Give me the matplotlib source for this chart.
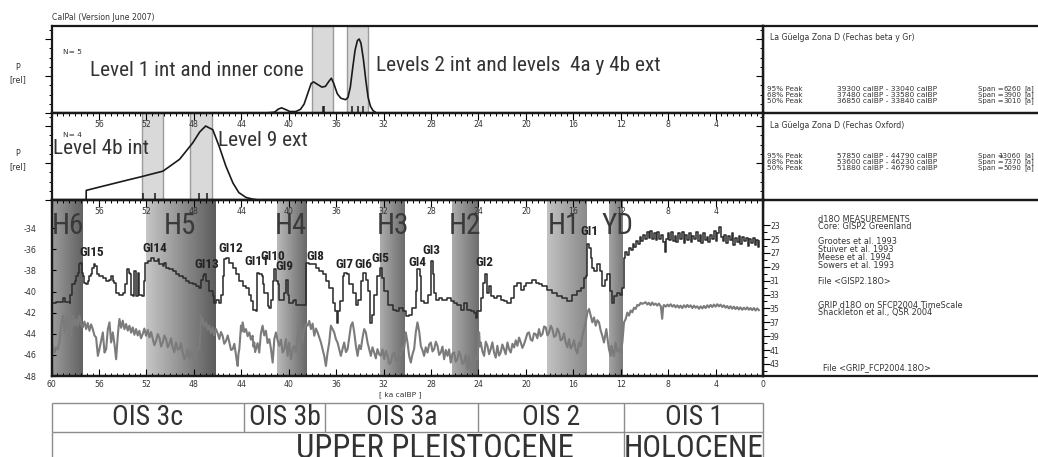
import numpy as np
import matplotlib.pyplot as plt
from matplotlib import font_manager
from matplotlib.font_manager import FontProperties
from matplotlib.colors import LinearSegmentedColormap
from matplotlib.ticker import MultipleLocator, FixedLocator

# ---------------------------------------------------------------- data
# summed calibrated probability, La Guelga zona D (beta + Gr dates)
top_age = [42.0, 41.2, 40.9, 40.6, 40.3, 39.9, 39.4, 39.0, 38.7, 38.4, 38.1, 37.9,
           37.6, 37.2, 36.9, 36.6, 36.4, 36.2, 35.9, 35.6, 35.2, 35.0, 34.8, 34.6,
           34.4, 34.2, 34.05, 33.9, 33.7, 33.5, 33.3, 33.1, 32.9, 32.6]
top_prob = [0.0, 0.01, 0.05, 0.07, 0.05, 0.02, 0.02, 0.05, 0.12, 0.26, 0.40, 0.42,
            0.39, 0.35, 0.36, 0.43, 0.47, 0.40, 0.26, 0.20, 0.18, 0.21, 0.35, 0.61,
            0.85, 0.98, 1.0, 0.94, 0.73, 0.45, 0.21, 0.09, 0.035, 0.0]
top_dates = [37.08, 37.0, 34.62, 34.14, 33.69]
top_bands = [(38.07, 36.24), (35.04, 33.27)]

# summed calibrated probability, La Guelga zona D (Oxford dates)
mid_age = [57.08, 57.07, 55.96, 53.7, 52.3, 50.6, 49.2, 48.1, 47.5, 47.0, 46.4,
           45.85, 45.3, 44.7, 44.2, 43.6, 43.0, 42.5]
mid_prob = [0.0, 0.13, 0.175, 0.265, 0.32, 0.39, 0.55, 0.77, 0.92, 1.0, 0.95,
            0.72, 0.46, 0.23, 0.10, 0.035, 0.01, 0.0]
mid_dates = [52.3, 51.26, 47.6, 46.9]
mid_bands = [(52.39, 50.62), (48.29, 46.5)]

top_title = "La Güelga Zona D (Fechas beta y Gr)"
mid_title = "La Güelga Zona D (Fechas Oxford)"
range_names = ["95% Peak", "68% Peak", "50% Peak"]
top_from = [39300, 37480, 36850]
top_to = [33040, 33580, 33840]
top_span = [6260, 3900, 3010]
mid_from = [57850, 53600, 51880]
mid_to = [44790, 46230, 46790]
mid_span = [13060, 7370, 5090]

# GISP2 d18O (permil)
gisp2_age = [
    60.03, 59.61, 59.19, 59.04, 58.90, 58.48, 58.40, 58.26, 58.06, 57.92, 57.78, 57.70,
    57.56, 57.44, 57.36, 57.28, 57.13, 56.94, 56.85, 56.71, 56.57, 56.43, 56.29, 56.18,
    55.96, 55.67, 55.39, 55.11, 54.97, 54.83, 54.69, 54.55, 54.27, 53.99, 53.77, 53.65,
    53.48, 53.34, 53.26, 53.15, 53.01, 52.87, 52.73, 52.59, 52.36, 52.22, 52.11, 51.83,
    51.60, 51.32, 51.04, 50.90, 50.62, 50.48, 50.34, 50.06, 49.78, 49.50, 49.22, 48.94,
    48.65, 48.37, 48.09, 47.81, 47.53, 47.39, 47.25, 47.11, 46.97, 46.69, 46.41, 46.27,
    46.13, 45.85, 45.71, 45.57, 45.43, 45.28, 45.00, 44.72, 44.44, 44.16, 43.88, 43.60,
    43.32, 43.18, 43.04, 42.76, 42.70, 42.48, 42.28, 42.20, 42.06, 41.77, 41.63, 41.49,
    41.35, 41.21, 41.07, 40.93, 40.79,
    40.37, 40.23, 40.09, 39.95, 39.67, 39.53, 39.39, 38.97, 38.63, 38.54, 38.26, 37.98,
    37.70, 37.42, 37.14, 36.86, 36.58, 36.30, 36.10, 35.93, 35.82, 35.65, 35.46, 35.32,
    35.09, 34.89, 34.61, 34.33, 34.14, 33.91, 33.69, 33.49, 33.35, 33.15, 33.01, 32.79,
    32.51, 32.31, 32.14, 31.95, 31.61, 31.24, 30.96, 30.68, 30.40, 30.12, 29.84, 29.56,
    29.28, 29.14, 28.91, 28.80, 28.57, 28.29, 28.01, 27.87, 27.73, 27.59, 27.31, 27.03,
    26.61, 26.33, 26.05, 25.77, 25.49, 25.21, 24.93, 24.64, 24.36, 24.22, 24.08, 23.80,
    23.58, 23.44, 23.30, 23.10, 22.96, 22.68, 22.40, 22.12, 21.84, 21.55, 21.27, 20.99,
    20.71, 20.43, 20.15,
    20.01, 19.45, 19.17, 18.89, 18.60, 18.18, 17.76, 17.34, 16.92, 16.50, 16.08, 15.66,
    15.37, 15.09, 14.95, 14.81, 14.67, 14.53, 14.39, 14.25, 13.97, 13.77, 13.55, 13.33,
    13.13, 12.93, 12.76, 12.57, 12.29, 12.06, 11.86,
    11.72, 11.60, 11.45, 11.30, 11.15, 11.00, 10.85, 10.70, 10.55, 10.40, 10.25, 10.10,
    9.95, 9.80, 9.65, 9.50, 9.35, 9.20, 9.05, 8.90, 8.75, 8.60, 8.45, 8.30, 8.20, 8.05,
    7.90, 7.75, 7.60, 7.45, 7.30, 7.15, 7.00, 6.85, 6.70, 6.55, 6.40, 6.25, 6.10, 5.95,
    5.80, 5.65, 5.50, 5.35, 5.20, 5.05, 4.90, 4.75, 4.60, 4.45, 4.30, 4.15, 4.00, 3.85,
    3.70, 3.55, 3.40, 3.25, 3.10, 2.95, 2.80, 2.65, 2.50, 2.35, 2.20, 2.05, 1.90, 1.75,
    1.60, 1.45, 1.30, 1.15, 1.00, 0.85, 0.70, 0.55, 0.40, 0.30]
gisp2_d18o = [
    -41.08, -40.98, -40.98, -40.60, -40.98, -41.08, -40.29, -39.33, -39.02, -38.54, -38.22, -37.43,
    -37.27, -38.22, -38.54, -39.17, -39.33, -39.02, -38.54, -38.38, -37.75, -37.43, -37.59, -38.38,
    -38.54, -38.70, -39.02, -38.86, -38.54, -39.02, -39.17, -40.13, -40.29, -40.13, -39.33, -37.90,
    -38.22, -38.38, -40.29, -40.44, -38.06, -40.44, -38.22, -40.29, -40.44, -39.02, -37.27, -37.11,
    -36.79, -37.11, -36.95, -37.43, -37.59, -37.27, -37.75, -37.90, -38.06, -38.38, -38.54, -38.70,
    -39.02, -39.17, -39.33, -39.49, -39.65, -38.86, -38.54, -38.38, -39.02, -39.97, -40.44, -41.08,
    -40.76, -41.08, -40.29, -38.54, -36.95, -36.79, -37.27, -37.75, -38.38, -39.02, -39.49, -39.65,
    -40.29, -40.92, -41.71, -41.87, -38.22, -38.38, -38.54, -39.33, -40.13, -41.40, -41.56, -40.76,
    -39.02, -37.90, -39.02, -39.33, -40.76,
    -40.13, -38.86, -40.29, -41.08, -40.92, -40.76, -41.24, -41.30, -41.24, -37.27, -37.43, -37.43,
    -37.75, -38.06, -38.38, -39.02, -39.65, -41.08, -41.87, -42.98, -41.87, -40.92, -38.54, -38.22,
    -38.38, -39.33, -40.13, -41.24, -40.76, -39.02, -38.22, -38.86, -39.97, -42.98, -42.19, -40.29,
    -38.54, -37.75, -38.70, -39.97, -41.24, -41.71, -41.87, -41.56, -41.87, -42.35, -42.19, -41.56,
    -39.97, -37.90, -38.54, -40.92, -41.08, -40.29, -37.11, -38.38, -40.13, -40.76, -40.60, -40.76,
    -40.60, -40.92, -41.08, -41.24, -41.71, -41.08, -41.71, -41.87, -42.03, -42.51, -41.87, -40.60,
    -39.17, -38.38, -40.13, -39.49, -40.44, -40.60, -40.44, -40.76, -40.92, -41.08, -40.60, -39.49,
    -39.17, -39.81, -39.49,
    -39.17, -38.86, -39.17, -39.33, -39.49, -39.81, -40.13, -40.44, -40.60, -40.92, -40.29, -39.97,
    -39.65, -38.70, -38.54, -35.52, -35.84, -36.79, -37.75, -38.06, -37.43, -38.06, -39.49, -38.86,
    -38.38, -39.97, -41.08, -40.44, -40.13, -40.29, -39.65,
    -36.8, -36.3, -36.5, -35.9, -36.1, -35.5, -35.8, -35.2, -35.5, -34.8, -35.2, -34.6,
    -35.0, -34.4, -34.9, -34.3, -35.0, -34.5, -35.1, -34.4, -35.0, -34.6, -35.3, -36.3, -35.0, -34.5,
    -35.1, -34.4, -35.2, -34.7, -35.3, -34.5, -35.0, -34.4, -35.4, -34.6, -35.1, -34.5, -35.3, -34.7,
    -35.0, -34.4, -35.2, -34.6, -35.4, -34.5, -35.1, -34.8, -35.3, -34.6, -35.0, -34.3, -35.2, -34.5,
    -33.9, -34.8, -35.2, -34.6, -35.4, -34.7, -35.1, -34.5, -35.6, -34.9, -35.3, -34.7, -35.5, -34.8,
    -35.2, -34.9, -35.7, -35.0, -35.4, -34.9, -35.6, -35.1, -35.8, -35.2]

# GRIP d18O on the SFCP2004 time scale, (age ka, value on the right-hand scale)
grip_points = [
    (60.03, 39.42), (59.89, 40.39), (59.75, 41.36), (59.61, 40.63), (59.47, 40.87),
    (59.33, 39.91), (59.19, 37.49), (59.04, 36.04), (58.90, 38.46), (58.76, 36.04),
    (58.62, 37.98), (58.48, 36.53), (58.34, 38.94), (58.20, 36.04), (58.06, 37.49),
    (57.92, 36.53), (57.78, 37.50), (57.64, 36.04), (57.50, 37.30), (57.36, 37.73),
    (57.22, 36.90), (57.08, 37.98), (56.94, 37.10), (56.80, 38.22), (56.66, 37.30),
    (56.52, 37.98), (56.38, 38.90), (56.24, 39.18), (56.09, 41.84), (55.96, 40.87),
    (55.82, 39.67), (55.67, 38.46), (55.53, 41.36), (55.39, 40.87), (55.25, 37.98),
    (55.11, 37.01), (54.97, 39.91), (54.83, 38.46), (54.69, 40.15), (54.55, 42.32),
    (54.41, 38.94), (54.34, 37.60), (54.27, 36.53), (54.13, 37.80), (53.99, 36.77),
    (53.85, 38.00), (53.71, 37.25), (53.57, 38.20), (53.43, 37.49), (53.29, 38.50),
    (53.15, 37.73), (53.01, 38.80), (52.87, 37.98), (52.73, 38.90), (52.59, 38.22),
    (52.45, 39.30), (52.31, 38.70), (52.17, 37.90), (52.03, 38.94), (51.88, 38.10),
    (51.74, 39.18), (51.60, 38.40), (51.46, 39.42), (51.32, 40.30), (51.18, 39.67),
    (51.04, 38.70), (50.90, 39.18), (50.76, 40.50), (50.62, 39.91), (50.48, 38.90),
    (50.34, 39.42), (50.20, 40.60), (50.06, 40.15), (49.92, 39.30), (49.78, 40.63),
    (49.64, 41.30), (49.50, 39.91), (49.36, 40.90), (49.22, 40.87), (49.08, 40.00),
    (48.94, 41.36), (48.80, 42.30), (48.65, 41.84), (48.51, 40.90), (48.37, 42.32),
    (48.23, 41.20), (48.09, 42.08), (47.95, 42.90), (47.81, 41.84), (47.67, 40.60),
    (47.53, 40.87), (47.39, 36.04), (47.32, 37.20), (47.25, 36.53), (47.11, 37.60),
    (46.97, 37.01), (46.83, 38.10), (46.69, 37.49), (46.55, 38.60), (46.41, 37.73),
    (46.27, 38.90), (46.13, 37.98), (45.99, 38.60), (45.85, 39.42), (45.71, 38.40),
    (45.57, 38.94), (45.43, 40.10), (45.28, 39.67), (45.14, 38.90), (45.00, 39.91),
    (44.86, 41.00), (44.72, 40.87), (44.58, 40.10), (44.44, 41.84), (44.37, 42.60),
    (44.30, 43.29), (44.23, 41.50), (44.16, 40.87), (44.02, 37.49), (43.95, 38.30),
    (43.88, 37.01), (43.74, 38.40), (43.60, 37.98), (43.46, 39.00), (43.32, 38.46),
    (43.18, 39.50), (43.04, 38.94), (42.97, 40.50), (42.90, 39.91), (42.83, 41.30),
    (42.76, 40.87), (42.62, 40.00), (42.48, 41.36), (42.34, 38.60), (42.20, 37.49),
    (42.06, 38.90), (41.92, 38.22), (41.78, 40.00), (41.63, 39.42), (41.49, 40.87),
    (41.35, 42.81), (41.21, 39.42), (41.07, 38.46), (40.93, 39.60), (40.79, 40.39),
    (40.65, 39.50), (40.51, 41.36),
    (40.37, 40.87), (40.23, 39.42), (40.09, 41.84), (39.95, 39.91), (39.81, 42.32),
    (39.67, 40.87), (39.53, 40.39), (39.39, 41.36), (39.25, 39.42), (39.11, 37.01),
    (38.97, 37.98), (38.83, 39.91), (38.69, 37.98), (38.54, 37.25), (38.40, 37.49),
    (38.26, 36.80), (38.12, 37.98), (37.98, 37.20), (37.84, 38.94), (37.70, 37.90),
    (37.56, 38.46), (37.42, 39.20), (37.28, 39.91), (37.14, 40.87), (37.00, 41.84),
    (36.86, 43.29), (36.72, 41.36), (36.58, 39.91), (36.44, 37.49), (36.30, 37.98),
    (36.16, 38.46), (36.02, 39.42), (35.88, 39.91), (35.74, 40.87), (35.60, 41.84),
    (35.46, 40.87), (35.32, 39.91), (35.17, 41.30), (35.03, 40.87), (34.89, 39.20),
    (34.75, 37.49), (34.61, 37.01), (34.47, 38.46), (34.33, 40.39), (34.19, 41.84),
    (34.05, 40.30), (33.91, 40.87), (33.77, 39.20), (33.63, 37.98), (33.49, 38.46),
    (33.35, 39.91), (33.21, 40.87), (33.07, 41.84), (32.93, 40.60), (32.79, 41.36),
    (32.65, 42.20), (32.51, 40.87), (32.37, 41.60), (32.23, 41.84), (32.09, 40.90),
    (31.95, 42.32), (31.80, 41.10), (31.66, 41.84), (31.52, 43.00), (31.38, 42.81),
    (31.24, 41.60), (31.10, 41.36), (30.96, 42.60), (30.82, 42.32), (30.68, 41.20),
    (30.54, 41.84), (30.40, 40.60), (30.26, 40.87), (30.12, 38.46), (29.98, 39.91),
    (29.84, 41.84), (29.70, 42.81), (29.56, 41.60), (29.42, 40.87), (29.28, 38.46),
    (29.14, 37.01), (28.98, 38.46), (28.86, 40.39), (28.72, 41.00), (28.58, 41.84),
    (28.44, 40.60), (28.29, 41.36), (28.15, 40.20), (28.01, 39.91), (27.87, 41.20),
    (27.73, 40.87), (27.59, 39.80), (27.45, 40.39), (27.31, 41.70), (27.17, 41.36),
    (27.03, 40.50), (26.89, 42.32), (26.75, 41.00), (26.61, 41.84), (26.47, 40.90),
    (26.33, 42.81), (26.19, 41.50), (26.05, 41.36), (25.91, 42.70), (25.77, 42.32),
    (25.63, 41.20), (25.49, 41.84), (25.35, 43.00), (25.21, 42.81), (25.07, 41.70),
    (24.93, 43.77), (24.78, 41.84), (24.64, 44.26), (24.50, 42.81), (24.36, 43.77),
    (24.22, 41.84), (24.08, 42.32), (23.94, 38.46), (23.87, 40.50), (23.80, 39.91),
    (23.66, 41.20), (23.52, 41.84), (23.38, 39.80), (23.24, 40.39), (23.10, 41.60),
    (22.96, 40.87), (22.82, 39.90), (22.68, 41.36), (22.54, 42.10), (22.40, 40.39),
    (22.26, 41.80), (22.12, 41.36), (21.98, 40.20), (21.84, 40.87), (21.70, 41.60),
    (21.55, 39.91), (21.41, 40.90), (21.27, 41.36), (21.13, 40.10), (20.99, 40.63),
    (20.85, 39.60), (20.71, 40.39), (20.57, 39.20), (20.43, 39.91), (20.29, 40.70),
    (20.15, 40.15),
    (20.01, 39.42), (19.87, 38.60), (19.73, 38.46), (19.59, 39.50), (19.45, 39.67),
    (19.31, 38.60), (19.17, 38.70), (19.03, 39.30), (18.89, 37.98), (18.75, 39.00),
    (18.60, 38.70), (18.46, 37.60), (18.32, 37.73), (18.18, 38.90), (18.04, 38.46),
    (17.90, 37.50), (17.76, 37.98), (17.62, 39.10), (17.48, 38.94), (17.34, 37.90),
    (17.20, 38.46), (17.06, 39.60), (16.92, 39.42), (16.78, 38.60), (16.64, 39.91),
    (16.50, 40.60), (16.36, 39.42), (16.22, 40.80), (16.08, 40.39), (15.94, 39.60),
    (15.80, 40.87), (15.66, 41.50), (15.52, 39.91), (15.38, 40.50), (15.23, 38.94),
    (15.09, 37.98), (14.95, 37.01), (14.81, 35.56), (14.67, 35.08), (14.53, 36.04),
    (14.39, 37.01), (14.25, 36.30), (14.11, 37.49), (13.97, 36.70), (13.83, 37.01),
    (13.69, 38.20), (13.55, 38.94), (13.41, 39.91), (13.21, 37.98), (13.10, 39.50),
    (12.99, 40.87), (12.85, 41.84), (12.78, 40.40), (12.71, 40.87), (12.57, 41.90),
    (12.43, 39.91), (12.29, 41.20), (12.15, 40.87), (12.01, 41.36), (11.86, 39.91),
    (11.72, 37.01), (11.58, 36.53), (11.44, 35.60), (11.30, 36.04), (11.16, 35.30),
    (11.02, 35.56), (10.88, 34.90), (10.74, 35.08), (10.60, 34.50), (10.46, 34.59),
    (10.32, 34.20), (10.18, 34.35),
    (9.90, 34.11), (9.75, 34.45), (9.62, 34.20), (9.48, 34.55), (9.34, 34.15),
    (9.20, 34.50), (9.06, 34.30), (8.92, 34.60), (8.78, 34.30), (8.62, 34.70),
    (8.50, 36.50), (8.42, 34.80), (8.35, 34.50), (8.20, 34.75), (8.05, 34.45),
    (7.93, 34.70), (7.78, 34.40), (7.65, 34.75), (7.50, 34.50), (7.37, 34.85),
    (7.22, 34.55), (7.08, 34.90), (6.95, 34.60), (6.81, 34.95), (6.66, 34.55),
    (6.52, 34.85), (6.38, 34.50), (6.25, 34.80), (6.10, 34.55), (5.96, 34.95),
    (5.82, 34.60), (5.69, 34.90), (5.55, 34.70), (5.40, 35.05), (5.26, 34.70),
    (5.12, 35.00), (4.98, 34.65), (4.84, 34.95), (4.70, 34.55), (4.56, 34.85),
    (4.42, 34.50), (4.28, 34.80), (4.14, 34.45), (4.00, 34.75), (3.86, 34.40),
    (3.72, 34.70), (3.58, 34.45), (3.44, 34.80), (3.30, 34.55), (3.16, 34.90),
    (3.02, 34.65), (2.88, 35.00), (2.74, 34.70), (2.60, 35.05), (2.46, 34.75),
    (2.32, 35.10), (2.18, 34.80), (2.04, 35.15), (1.90, 34.85), (1.75, 35.20),
    (1.61, 34.90), (1.47, 35.15), (1.33, 34.85), (1.19, 35.20), (1.05, 34.95),
    (0.91, 35.25), (0.77, 34.95), (0.63, 35.30), (0.49, 35.00), (0.35, 35.25)]
grip_age = [a for a, _ in grip_points]
grip_d18o = [v for _, v in grip_points]

# Heinrich events and Younger Dryas (older edge, younger edge in ka)
heinrich_names = ["H6", "H5", "H4", "H3", "H2", "H1", "YD"]
heinrich_old = [60.0, 52.0, 41.0, 32.3, 26.2, 18.2, 13.0]
heinrich_young = [57.4, 46.1, 38.5, 30.2, 24.0, 14.9, 11.9]
heinrich_shades = [("#9c9c9c", "#626262"), ("#c6c6c6", "#5c5c5c"), ("#bababa", "#686868"),
                   ("#adadad", "#6c6c6c"), ("#ababab", "#6e6e6e"), ("#c2c2c2", "#8a8a8a"),
                   ("#a4a4a4", "#7a7a7a")]

# Greenland interstadials
gi_names = ["GI15", "GI14", "GI13", "GI12", "GI11", "GI10", "GI9", "GI8",
            "GI7", "GI6", "GI5", "GI4", "GI3", "GI2", "GI1"]

ois_names = ["OIS 3c", "OIS 3b", "OIS 3a", "OIS 2", "OIS 1"]
ois_edges = [60.0, 43.8, 36.9, 24.0, 11.7, 0.0]
period_names = ["UPPER PLEISTOCENE", "HOLOCENE"]
period_edges = [60.0, 11.7, 0.0]

# ---------------------------------------------------------------- fonts
SMALL = "DejaVu Sans"
INK = "#1a1a1a"
TXT = "#333333"
LW = 1.6


def _weight(w):
    if isinstance(w, (int, float)):
        return w
    return font_manager.weight_dict.get(str(w).lower(), 400)


def _narrow_file(bold):
    prefer = ["Liberation Sans Narrow", "Arial Narrow", "DejaVu Sans Condensed",
              "Roboto Condensed", "Open Sans Condensed", "Noto Sans"]
    found = {}
    for f in font_manager.fontManager.ttflist:
        cond = ("Narrow" in f.name or "Condensed" in f.name
                or str(f.stretch) in ("condensed", "semi-condensed", "extra-condensed"))
        if not cond or f.style != "normal":
            continue
        if any(k in f.name for k in ("Mono", "Serif", "CJK")):
            continue
        if (_weight(f.weight) >= 600) != bold:
            continue
        if bold and _weight(f.weight) > 750:
            continue
        if not bold and _weight(f.weight) < 350:
            continue
        found.setdefault(f.name, f.fname)
    for name in prefer:
        if name in found:
            return found[name]
    return next(iter(found.values()), None)


_REG = _narrow_file(False)
_BOLD = _narrow_file(True)


def narrow(size, bold=False):
    path = _BOLD if bold else _REG
    if path:
        return FontProperties(fname=path, size=size)
    return FontProperties(family="Liberation Sans", size=size * 0.84,
                          weight="bold" if bold else "normal")


# ---------------------------------------------------------------- layout
W, H = 1038, 457
fig = plt.figure(figsize=(W / 100, H / 100), dpi=100)


def frame(x0, y0, x1, y1):
    return [x0 / W, 1 - y1 / H, (x1 - x0) / W, (y1 - y0) / H]


def put(x, y, s, **kw):
    if "fontproperties" not in kw:
        kw.setdefault("fontsize", 5.4)
        kw.setdefault("family", SMALL)
    kw.setdefault("color", TXT)
    kw.setdefault("va", "center")
    fig.text(x / W, 1 - y / H, s, **kw)


X0, X1 = 51.5, 763
ax_top = fig.add_axes(frame(X0, 26, X1, 113))
ax_mid = fig.add_axes(frame(X0, 113, X1, 200))
ax_bot = fig.add_axes(frame(X0, 200, X1, 376))

major_x = list(range(60, -1, -4))
inner_labels = [""] + [str(v) for v in major_x[1:-1]] + [""]


def style_spines(ax):
    for sp in ax.spines.values():
        sp.set_linewidth(LW)
        sp.set_color(INK)


def inner_top_scale(ax):
    sec = ax.secondary_xaxis("top")
    sec.set_ticks(major_x, labels=inner_labels)
    sec.xaxis.set_minor_locator(MultipleLocator(0.5))
    sec.tick_params(which="major", direction="in", length=5, width=0.8, pad=-11.5,
                    labelsize=5.6, labelcolor=TXT)
    sec.tick_params(which="minor", direction="in", length=2.5, width=0.7)
    sec.spines["top"].set_linewidth(LW)


def prob_panel(ax, age, prob, dates, bands):
    ax.set_xlim(60, 0)
    ax.set_ylim(0, 1.176)
    for old, young in bands:
        ax.axvspan(old, young, facecolor="#d9d9d9", edgecolor="#9a9a9a", lw=1, zorder=0)
    ax.plot(age, prob, color=INK, lw=1.2, zorder=3)
    ax.vlines(dates, 0, 0.1, color=INK, lw=1.1, zorder=3)
    ax.tick_params(axis="x", bottom=False, labelbottom=False)
    ax.set_yticks([0, 0.5, 1.0])
    ax.yaxis.set_minor_locator(MultipleLocator(0.125))
    ax.tick_params(axis="y", which="major", direction="out", length=5, width=0.8,
                   labelleft=False)
    ax.tick_params(axis="y", which="minor", direction="out", length=2.5, width=0.7)
    right = ax.secondary_yaxis("right")
    right.set_ticks([0, 0.5, 1.0])
    right.yaxis.set_minor_locator(MultipleLocator(0.125))
    right.tick_params(which="major", direction="in", length=5, width=0.8, labelright=False)
    right.tick_params(which="minor", direction="in", length=2.5, width=0.7)
    right.spines["right"].set_linewidth(LW)
    style_spines(ax)


prob_panel(ax_top, top_age, top_prob, top_dates, top_bands)
prob_panel(ax_mid, mid_age, mid_prob, mid_dates, mid_bands)
inner_top_scale(ax_mid)

# ---------------------------------------------------------------- isotope panel
YLO, YHI = -48.0, -31.33
for old, young, (c_old, c_young) in zip(heinrich_old, heinrich_young, heinrich_shades):
    cmap = LinearSegmentedColormap.from_list("band", [c_old, c_young])
    ax_bot.imshow(np.linspace(0, 1, 128)[None, :], cmap=cmap, aspect="auto",
                  extent=(old, young, YLO, YHI), zorder=0, interpolation="bilinear")
ax_bot.step(gisp2_age, gisp2_d18o, where="post", color="#2e2e2e", lw=1.15, zorder=3)
ax_bot.set_xlim(60, 0)
ax_bot.set_ylim(YLO, YHI)

ax_bot.set_yticks(range(-34, -49, -2), labels=[str(v) for v in range(-34, -49, -2)])
ax_bot.tick_params(axis="y", direction="in", length=3, width=0.8, pad=11,
                   labelsize=5.8, labelcolor=TXT)
ax_bot.set_xticks(major_x, labels=[str(v) for v in major_x])
ax_bot.xaxis.set_minor_locator(MultipleLocator(0.5))
ax_bot.tick_params(axis="x", which="major", direction="in", length=5, width=0.8, pad=3,
                   labelsize=5.6, labelcolor=TXT)
ax_bot.tick_params(axis="x", which="minor", direction="in", length=2.5, width=0.7)
style_spines(ax_bot)
inner_top_scale(ax_bot)

ax_grip = ax_bot.twinx()
ax_grip.plot(grip_age, grip_d18o, color="#7b7b7b", lw=1.5, zorder=2)
ax_grip.set_ylim(44.74, 19.38)
ax_grip.set_xlim(60, 0)
ax_grip.set_yticks(range(23, 44, 2), labels=[str(v) for v in range(23, 44, 2)])
ax_grip.yaxis.set_minor_locator(FixedLocator(range(24, 45, 2)))
ax_grip.tick_params(axis="y", which="major", direction="out", length=5, width=0.8, pad=0,
                    labelsize=5.6, labelcolor=TXT)
ax_grip.tick_params(axis="y", which="minor", direction="out", length=3, width=0.7)
style_spines(ax_grip)

h_label_x = [58.6, 49.2, 39.8, 31.2, 25.1, 16.8, 12.3]
for x, name in zip(h_label_x, heinrich_names):
    ax_bot.text(x, -33.8, name, ha="center", va="center", fontproperties=narrow(21),
                color="#3a3a3a", zorder=4)

gi_x = [56.59, 51.3, 46.94, 44.92, 42.65, 41.38, 40.37, 37.76, 35.27, 33.72, 32.28,
        29.12, 27.94, 23.5, 14.68]
gi_y = [-36.29, -35.90, -37.43, -35.90, -37.14, -36.67, -37.62, -36.67, -37.43, -37.43,
        -36.86, -37.24, -36.10, -37.24, -34.29]
for x, y, name in zip(gi_x, gi_y, gi_names):
    ax_bot.text(x, y, name, ha="center", va="center", fontproperties=narrow(9.5, True),
                color="#222222", zorder=4)

# ---------------------------------------------------------------- text panels
for y0, y1 in [(26, 113), (113, 200), (200, 376)]:
    tp = fig.add_axes(frame(X1, y0, W + 4, y1), zorder=-1)
    tp.set_xticks([])
    tp.set_yticks([])
    tp.patch.set_visible(False)
    style_spines(tp)
    tp.spines["right"].set_visible(False)


def range_block(title, ty, rows_y, lo, hi, span):
    put(770, ty, title, fontsize=5.6)
    for y, name, a, b, s in zip(rows_y, range_names, lo, hi, span):
        put(767, y, name, fontsize=5.2)
        put(837, y, f"{a} calBP - {b} calBP", fontsize=5.4)
        put(978, y, "Span =", fontsize=5.0)
        put(1021, y, f"{s}", ha="right", fontsize=5.0)
        put(1024.5, y, "[a]", fontsize=5.0)


range_block(top_title, 37.5, [89, 95, 101], top_from, top_to, top_span)
range_block(mid_title, 126, [156, 162, 168], mid_from, mid_to, mid_span)

info_lines = [(219, "d18O MEASUREMENTS"), (226, "Core: GISP2 Greenland"),
              (242, "Grootes et al. 1993"), (249, "Stuiver et al. 1993"),
              (257, "Meese et al. 1994"), (265, "Sowers et al. 1993"),
              (281, "File <GISP2.18O>"), (306, "GRIP d18O on SFCP2004 TimeScale"),
              (313, "Shackleton et al., QSR 2004")]
for y, s in info_lines:
    put(818, y, s, fontsize=5.9)
put(823, 368, "File <GRIP_FCP2004.18O>", fontsize=5.9)

# ---------------------------------------------------------------- labels
put(52, 17, "CalPal (Version June 2007)", fontsize=5.6)
for yp in (67, 154):
    put(18, yp, "P", ha="center", fontsize=5.8)
    put(18, yp + 13, "[rel]", ha="center", fontsize=5.8)
put(63, 52, "N= 5")
put(63, 135, "N= 4")
put(400, 395, "[ ka calBP ]", ha="center")

big = dict(fontproperties=narrow(15.3), color=TXT, va="baseline")
put(90, 76, "Level 1 int and inner cone", **big)
put(376, 71, "Levels 2 int and levels  4a y 4b ext", **big)
put(53, 154, "Level 4b int", **big)
put(218, 146, "Level 9 ext", **big)

# ---------------------------------------------------------------- stage table
tab = fig.add_axes(frame(X0, 403, X1, 461))
tab.set_xlim(60, 0)
tab.set_ylim(0, 2)
tab.axis("off")
grid = dict(color="#8c8c8c", lw=1, clip_on=False)
tab.hlines([2, 1, 0], 60, 0, **grid)
tab.vlines(ois_edges, 1, 2, **grid)
tab.vlines(period_edges, 0, 1, **grid)
for a, b, name in zip(ois_edges[:-1], ois_edges[1:], ois_names):
    tab.text((a + b) / 2, 1.5, name, ha="center", va="center", fontproperties=narrow(20),
             color=TXT)
tab.text(27.7, 0.42, period_names[0], ha="center", va="center", fontproperties=narrow(23.5),
         color=TXT)
tab.text((period_edges[1] + period_edges[2]) / 2, 0.42, period_names[1], ha="center",
         va="center", fontproperties=narrow(22.5), color=TXT)

fig.savefig("out.png", dpi=100)
